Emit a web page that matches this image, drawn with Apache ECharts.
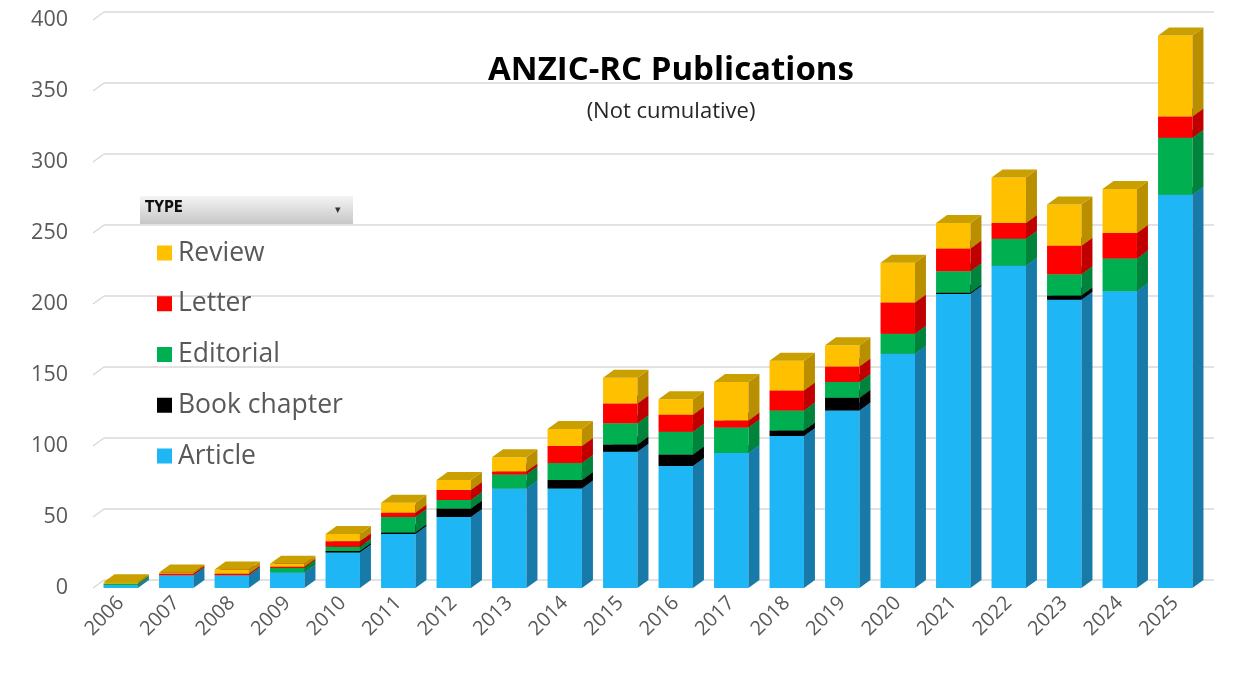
<!DOCTYPE html>
<html>
<head>
<meta charset="utf-8">
<script src="https://cdn.jsdelivr.net/npm/echarts@6/dist/echarts.min.js"></script>
<style>
  html, body { margin: 0; padding: 0; background: #fff; }
  #myChart { width: 1252px; height: 690px; }
</style>
</head>
<body>
<div id="myChart"></div>
<script>
// 年份
var years = ['2006', '2007', '2008', '2009', '2010', '2011', '2012', '2013', '2014', '2015',
             '2016', '2017', '2018', '2019', '2020', '2021', '2022', '2023', '2024', '2025'];
// publications per type (stack order bottom -> top)
var article     = [2, 9, 9, 11, 25, 38, 50, 70, 70, 96, 86, 95, 107, 125, 165, 207, 227, 203, 209, 277];
var bookChapter = [0, 0, 0, 0, 1, 1, 6, 0, 6, 5, 8, 0, 4, 9, 0, 1, 0, 3, 0, 0];
var editorial   = [1, 0, 0, 3, 3, 11, 6, 10, 12, 15, 16, 18, 14, 11, 14, 15, 19, 15, 23, 40];
var letter      = [0, 1, 1, 1, 4, 3, 7, 2, 12, 14, 12, 5, 14, 11, 22, 16, 11, 20, 18, 15];
var review      = [1, 1, 3, 2, 5, 7, 7, 10, 12, 18, 11, 27, 21, 15, 28, 18, 32, 29, 31, 57];
var yTicks = [0, 50, 100, 150, 200, 250, 300, 350, 400];

var types = [
    { name: 'Article',      data: article,     front: '#1fb6f6', side: '#177aa8', top: '#177aa8' },
    { name: 'Book chapter', data: bookChapter, front: '#000000', side: '#000000', top: '#000000' },
    { name: 'Editorial',    data: editorial,   front: '#00b050', side: '#00833b', top: '#00833b' },
    { name: 'Letter',       data: letter,      front: '#ff0000', side: '#c00000', top: '#c00000' },
    { name: 'Review',       data: review,      front: '#ffc000', side: '#b98f00', top: '#c9a000' }
];

var DX = 11, DY = -8; // 3D depth offset

var dom = document.getElementById('myChart');
var myChart = echarts.init(dom);

// stacked [index, low, high] rows
var base = years.map(function () { return 0; });
var series = types.map(function (t) {
    var rows = t.data.map(function (v, i) {
        var lo = base[i];
        base[i] += v;
        return [i, lo, lo + v];
    });
    return {
        name: t.name,
        type: 'custom',
        xAxisIndex: 0,
        yAxisIndex: 0,
        itemStyle: { color: t.front },
        encode: { x: 0, y: [1, 2] },
        renderItem: function (params, api) {
            var i = api.value(0), lo = api.value(1), hi = api.value(2);
            if (hi - lo <= 0) return;
            var pb = api.coord([i, lo]);
            var pt = api.coord([i, hi]);
            var w = api.size([1, 0])[0] * 0.62;
            var x0 = pb[0] - w / 2, x1 = pb[0] + w / 2;
            var yb = pb[1], yt = pt[1];
            return {
                type: 'group',
                children: [
                    { type: 'rect', shape: { x: x0, y: yt, width: w, height: yb - yt }, style: { fill: t.front } },
                    { type: 'polygon', shape: { points: [[x1, yb], [x1 + DX, yb + DY], [x1 + DX, yt + DY], [x1, yt]] }, style: { fill: t.side } },
                    { type: 'polygon', shape: { points: [[x0, yt], [x1, yt], [x1 + DX, yt + DY], [x0 + DX, yt + DY]] }, style: { fill: t.top } }
                ]
            };
        },
        data: rows
    };
});

var option = {
    backgroundColor: '#fff',
    animation: false,
    textStyle: { fontFamily: 'Open Sans' },
    title: {
        text: 'ANZIC-RC Publications',
        subtext: '(Not cumulative)',
        left: 666,
        top: 49,
        textAlign: 'center',
        itemGap: 14,
        textStyle: { fontSize: 33, fontWeight: 'bold', color: '#000', fontFamily: 'Open Sans' },
        subtextStyle: { fontSize: 22, color: '#262626', fontFamily: 'Open Sans' }
    },
    legend: {
        orient: 'vertical',
        left: 152,
        top: 232,
        itemWidth: 15,
        itemHeight: 15,
        itemGap: 18.75,
        icon: 'rect',
        data: ['Review', 'Letter', 'Editorial', 'Book chapter', 'Article'],
        textStyle: { fontSize: 26.5, color: '#595959', lineHeight: 32, padding: [0, 0, 0, 1] }
    },
    grid: [
        { left: 93, right: 49, top: 20, bottom: 102 },   // front plane (bars)
        { left: 104, right: 38, top: 12, bottom: 110 }   // back wall (gridlines)
    ],
    xAxis: [{
        type: 'category',
        gridIndex: 0,
        data: years,
        axisLine: { show: false },
        axisTick: { show: false },
        axisLabel: { rotate: 45, fontSize: 20, color: '#595959', margin: 12, interval: 0 }
    }, {
        type: 'category',
        gridIndex: 1,
        data: years,
        show: false
    }],
    yAxis: [{
        type: 'value',
        gridIndex: 0,
        min: yTicks[0],
        max: yTicks[yTicks.length - 1],
        interval: 50,
        axisLine: { show: false },
        axisTick: { show: false },
        splitLine: { show: false },
        axisLabel: { fontSize: 21.5, color: '#595959', margin: 25, padding: [4, 0, 0, 0] }
    }, {
        type: 'value',
        gridIndex: 1,
        min: yTicks[0],
        max: yTicks[yTicks.length - 1],
        interval: 50,
        axisLine: { show: false },
        axisTick: { show: false },
        axisLabel: { show: false },
        splitLine: { show: true, lineStyle: { color: '#d9d9d9', width: 1.5 } }
    }],
    graphic: [{
        type: 'rect',
        left: 140,
        top: 196,
        shape: { width: 213, height: 28 },
        style: {
            fill: new echarts.graphic.LinearGradient(0, 0, 0, 1, [
                { offset: 0, color: '#f4f4f4' },
                { offset: 1, color: '#c6c6c6' }
            ])
        },
        z: 10
    }, {
        type: 'text',
        left: 145,
        top: 201,
        style: { text: 'TYPE', fontSize: 15, fontWeight: 'bold', fill: '#111', fontFamily: 'Liberation Sans Narrow, DejaVu Sans Condensed, sans-serif' },
        z: 11
    }, {
        type: 'text',
        left: 335,
        top: 204,
        style: { text: '▾', fontSize: 11, fill: '#333' },
        z: 11
    }],
    series: series
};
myChart.setOption(option, true);

// sloped left ends of the back-wall gridlines
var slopes = yTicks.map(function (v) {
    var yf = myChart.convertToPixel({ yAxisIndex: 0 }, v);
    var yb = myChart.convertToPixel({ yAxisIndex: 1 }, v);
    return {
        type: 'line',
        shape: { x1: 93, y1: yf, x2: 104, y2: yb },
        style: { stroke: '#d9d9d9', lineWidth: 1.5 },
        z: 1
    };
});
myChart.setOption({ graphic: option.graphic.concat(slopes) });
</script>
</body>
</html>
